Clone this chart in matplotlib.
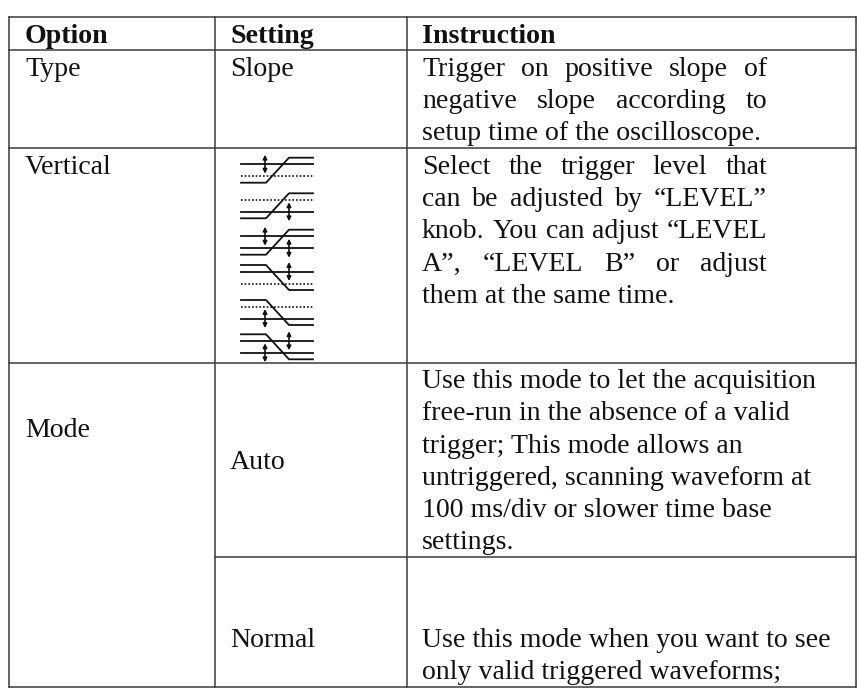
import matplotlib
matplotlib.use("Agg")
import matplotlib.pyplot as plt

plt.rcParams['font.family'] = ['Liberation Serif', 'DejaVu Serif']

W, H = 858, 697
LINE = '#3a3a3a'
INK = '#111111'
FS = 20.1
RIGHT_EDGE = 767

headers = ["Option", "Setting", "Instruction"]
options = ["Type", "Vertical", "Mode"]
settings = ["Slope", "Auto", "Normal"]

# justified lines are marked True
type_text = [("Trigger on positive slope of", True), ("negative slope according to", True),
             ("setup time of the oscilloscope.", False)]
vertical_text = [("Select the trigger level that", True), ("can be adjusted by \u201cLEVEL\u201d", True),
                 ("knob. You can adjust \u201cLEVEL", True), ("A\u201d, \u201cLEVEL B\u201d or adjust", True),
                 ("them at the same time.", False)]
auto_text = ["Use this mode to let the acquisition", "free-run in the absence of a valid",
             "trigger; This mode allows an", "untriggered, scanning waveform at",
             "100 ms/div or slower time base", "settings."]
normal_text = ["Use this mode when you want to see", "only valid triggered waveforms;"]

# rising / falling, which levels are solid (A upper, B lower)
icons = [("up", "A"), ("up", "B"), ("up", "AB"), ("down", "A"), ("down", "B"), ("down", "AB")]
icon_tops = [157.7, 193.3, 229.7, 265, 300, 334.3]

fig = plt.figure(figsize=(W / 100, H / 100), dpi=100)
ax = fig.add_axes([0, 0, 1, 1])
ax.set_xlim(0, W)
ax.set_ylim(H, 0)
ax.axis('off')


def hline(y, x0, x1):
    ax.plot([x0, x1], [y, y], color=LINE, lw=1.1, solid_capstyle='projecting')


def vline(x, y0, y1):
    ax.plot([x, x], [y0, y1], color=LINE, lw=1.1, solid_capstyle='projecting')


def put(x, y, s, weight='normal'):
    return ax.text(x, y, s, fontsize=FS, color=INK, weight=weight, va='baseline', ha='left')


def justified(x, y, s, right):
    # spread the words so that the line reaches the right edge
    words = s.split(' ')
    renderer = fig.canvas.get_renderer()
    items = [put(x, y, w) for w in words]
    widths = [t.get_window_extent(renderer).width for t in items]
    gap = (right - x - sum(widths)) / (len(words) - 1)
    pos = x
    for t, w in zip(items, widths):
        t.set_x(pos)
        pos += w + gap


def block(x, y, lines, step=32.2):
    for i, line in enumerate(lines):
        if isinstance(line, tuple):
            if line[1]:
                justified(x, y + i * step, line[0], RIGHT_EDGE)
            else:
                put(x, y + i * step, line[0])
        else:
            put(x, y + i * step, line)


def double_arrow(x, y):
    ax.annotate('', xy=(x, y - 9.5), xytext=(x, y + 9.5),
                arrowprops=dict(arrowstyle='<|-|>', color=INK, lw=1.2,
                                mutation_scale=6, shrinkA=0, shrinkB=0))


def slope_icon(top, kind, levels):
    x0, x1 = 241, 313
    high, a, b, low = top, top + 6.5, top + 18.5, top + 25
    start, end = (low, high) if kind == "up" else (high, low)
    ax.plot([x0, 266, 289, x1], [start, start, end, end], color=INK, lw=1.3)
    left_x, right_x = (265, 289) if kind == "up" else (289, 265)
    for name, y, ax_x in (("A", a, left_x), ("B", b, right_x)):
        if name in levels:
            ax.plot([x0, x1], [y, y], color=INK, lw=1.3)
            double_arrow(ax_x, y)
        else:
            ax.plot([x0, x1], [y, y], color=INK, lw=1.2, ls=(0, (1, 1.2)))


# frame and rows
hline(16.5, 9, 856)
hline(50, 9, 856)
hline(148, 9, 856)
hline(362.5, 9, 856)
hline(556.7, 215, 856)
hline(686.5, 9, 856)
vline(9.3, 16.5, 686.5)
vline(215, 16.5, 686.5)
vline(407.3, 16.5, 686.5)
vline(855.7, 16.5, 686.5)

put(25, 42.7, headers[0], 'bold')
put(230, 42.7, headers[1], 'bold')
put(422, 42.7, headers[2], 'bold')

put(25, 76, options[0])
put(25, 174, options[1])
put(25, 436.7, options[2])

put(230, 76, settings[0])
put(230, 469, settings[1])
put(230, 646.7, settings[2])

fig.canvas.draw()
block(422, 76, type_text)
block(422, 174, vertical_text)
block(422, 388.3, auto_text)
block(422, 646.7, normal_text)

for (kind, levels), top in zip(icons, icon_tops):
    slope_icon(top, kind, levels)

fig.savefig('out.png', dpi=100)
